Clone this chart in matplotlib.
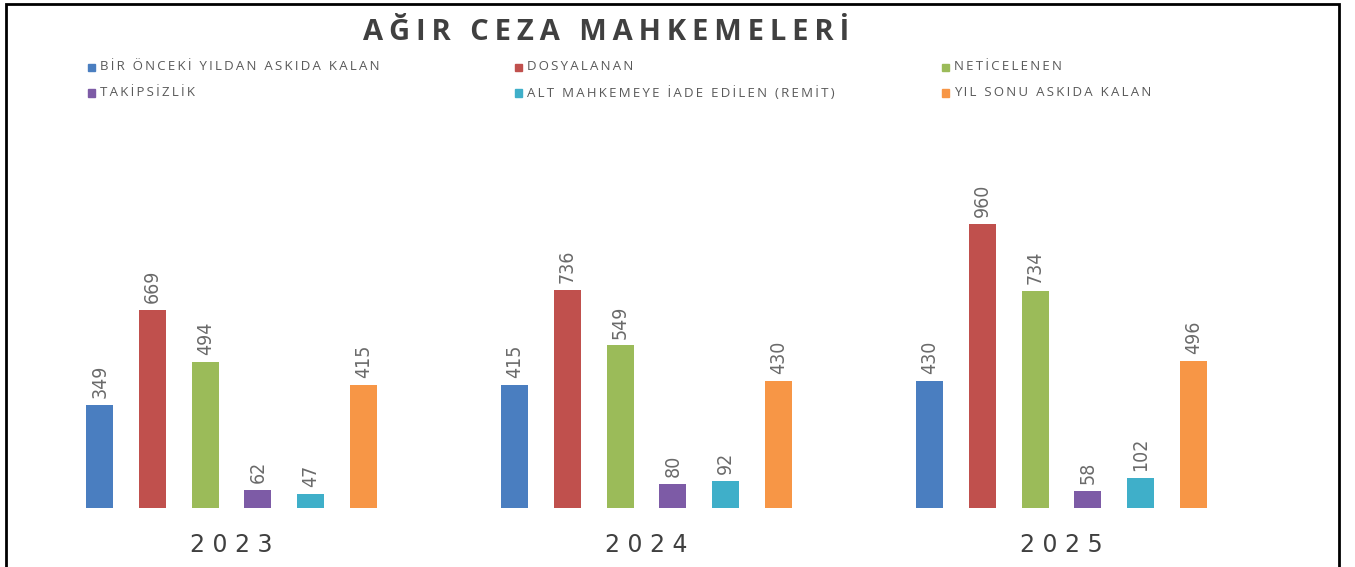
import matplotlib
matplotlib.use("Agg")
import matplotlib.pyplot as plt
import numpy as np
from matplotlib.patches import Rectangle

years = ["2023", "2024", "2025"]
series_names = ["BİR ÖNCEKİ YILDAN ASKIDA KALAN", "DOSYALANAN", "NETİCELENEN",
                "TAKİPSİZLİK", "ALT MAHKEMEYE İADE EDİLEN (REMİT)", "YIL SONU ASKIDA KALAN"]
onceki = [349, 415, 430]
dosyalanan = [669, 736, 960]
neticelenen = [494, 549, 734]
takipsizlik = [62, 80, 58]
remit = [47, 92, 102]
yil_sonu = [415, 430, 496]
series = [onceki, dosyalanan, neticelenen, takipsizlik, remit, yil_sonu]
colors = ["#4A7EC0", "#C0504D", "#9BBB59", "#7D5BA6", "#3FAFC9", "#F79646"]


def spaced(s, sep="\u2009"):
    # fake letter spacing with thin spaces
    return sep.join(s)


W, H = 1355, 567
fig = plt.figure(figsize=(W / 100, H / 100), dpi=100)
fig.patch.set_facecolor("white")

# axes covers whole figure; limits chosen so groups land where the original puts them
px_group = 415.0
x0_px = 231.5
base_px = 59.0
scale = 0.296
ax = fig.add_axes([0, 0, 1, 1])
ax.set_xlim(-x0_px / px_group, (W - x0_px) / px_group)
ax.set_ylim(-base_px / scale, (H - base_px) / scale)
ax.axis("off")

step = 52.7 / px_group
width = 27 / px_group
x = np.arange(len(years))
for i, (vals, c) in enumerate(zip(series, colors)):
    pos = x + (i - 2.5) * step
    ax.bar(pos, vals, width=width, color=c, zorder=2)
    for p, v in zip(pos, vals):
        ax.annotate(str(v), (p, v), xytext=(0, 5), textcoords="offset points",
                    rotation=90, ha="center", va="bottom", fontsize=14,
                    fontstretch="condensed", color="#6a6a6a", family="DejaVu Sans")

for xi, y in zip(x, years):
    ax.annotate(spaced(y, " "), (xi, 0), xytext=(0, -18), textcoords="offset points",
                ha="center", va="top", fontsize=17, color="#404040")

fig.text(606 / W, 1 - 33 / H, spaced("AĞIR CEZA MAHKEMELERİ"), ha="center", va="center",
         fontsize=21, fontweight="bold", color="#404040", family=["Open Sans", "DejaVu Sans"])

leg_x = [88, 515, 942]
leg_y = [67, 93]
for i, (name, c) in enumerate(zip(series_names, colors)):
    r, col = divmod(i, 3)
    fx = leg_x[col] / W
    fy = 1 - leg_y[r] / H
    fig.patches.append(Rectangle((fx, fy - 3.5 / H), 7 / W, 7 / H,
                                 transform=fig.transFigure, color=c))
    fig.text(fx + 12 / W, fy, spaced(name), ha="left", va="center", fontsize=9.5,
             color="#595959", family=["Open Sans", "DejaVu Sans"])

# frame
fig.patches.append(Rectangle((6 / W, -0.01), 1333 / W, 1.01 - 4 / H,
                             transform=fig.transFigure, fill=False,
                             edgecolor="black", linewidth=2))

fig.savefig("out.png", dpi=100)
